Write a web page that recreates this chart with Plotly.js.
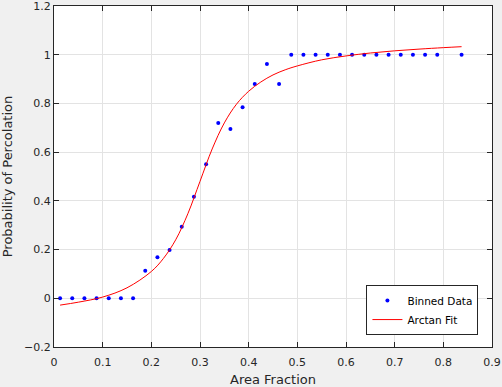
<!DOCTYPE html>
<html>
<head>
<meta charset="utf-8">
<script src="https://cdn.plot.ly/plotly-3.0.1.min.js"></script>
<style>html,body{margin:0;padding:0;background:#f0f0f0;}#chart{width:502px;height:387px;}</style>
</head>
<body>
<div id="chart"></div>
<script>
// Binned data (bin centres and observed probability)
const binX = [0.0125, 0.0375, 0.0625, 0.0875, 0.1125, 0.1375, 0.1625, 0.1875, 0.2125, 0.2375,
              0.2625, 0.2875, 0.3125, 0.3375, 0.3625, 0.3875, 0.4125, 0.4375, 0.4625, 0.4875,
              0.5125, 0.5375, 0.5625, 0.5875, 0.6125, 0.6375, 0.6625, 0.6875, 0.7125, 0.7375,
              0.7625, 0.7875, 0.8375];
const binY = [0, 0, 0, 0, 0, 0, 0, 0.113, 0.168, 0.198,
              0.294, 0.417, 0.55, 0.72, 0.695, 0.784, 0.88, 0.962, 0.88, 1,
              1, 1, 1, 1, 1, 1, 1, 1, 1, 1,
              1, 1, 1];

// Arctan fit curve
const fitX = [0.0125, 0.05, 0.1, 0.15, 0.2, 0.225, 0.25, 0.275, 0.3, 0.325, 0.35, 0.375,
              0.4, 0.425, 0.45, 0.475, 0.5, 0.55, 0.6, 0.65, 0.7, 0.75, 0.8, 0.8375];
const fitY = [-0.028, -0.016, 0.005, 0.043, 0.11, 0.164, 0.24, 0.347, 0.48, 0.613, 0.72, 0.797,
              0.85, 0.888, 0.917, 0.938, 0.954, 0.979, 0.995, 1.007, 1.016, 1.023, 1.029, 1.033];

// Axis tick values
const xTicks = [0, 0.1, 0.2, 0.3, 0.4, 0.5, 0.6, 0.7, 0.8, 0.9];
const xTickText = ['0', '0.1', '0.2', '0.3', '0.4', '0.5', '0.6', '0.7', '0.8', '0.9'];
const yTicks = [-0.2, 0, 0.2, 0.4, 0.6, 0.8, 1, 1.2];
const yTickText = ['\u22120.2', '0', '0.2', '0.4', '0.6', '0.8', '1', '1.2'];

const seriesNames = ['Binned Data', 'Arctan Fit'];
const xTitle = 'Area Fraction';
const yTitle = 'Probability of Percolation';

const font = 'DejaVu Sans, Arial, sans-serif';
const axisCommon = {
  showgrid: true, gridcolor: '#e3e3e3', gridwidth: 1,
  zeroline: false, showline: true, linecolor: '#262626', linewidth: 1,
  mirror: 'ticks', ticks: 'inside', ticklen: 5, tickcolor: '#262626',
  tickmode: 'array', ticklabeloverflow: 'allow',
  tickfont: {family: font, size: 11, color: '#262626'}
};

const data = [
  {x: binX, y: binY, type: 'scatter', mode: 'markers', name: seriesNames[0],
   marker: {color: '#0000ff', size: 4}},
  {x: fitX, y: fitY, type: 'scatter', mode: 'lines', name: seriesNames[1],
   line: {color: '#ff0000', width: 1, shape: 'spline', smoothing: 1}}
];

const layout = {
  width: 502, height: 387,
  paper_bgcolor: '#f0f0f0', plot_bgcolor: '#ffffff',
  margin: {l: 54, r: 10, t: 6, b: 40},
  showlegend: true,
  font: {family: font, color: '#262626'},
  xaxis: Object.assign({}, axisCommon, {
    range: [0, 0.9], tickvals: xTicks, ticktext: xTickText, ticklabelstandoff: 5,
    title: {text: xTitle, font: {family: font, size: 13, color: '#262626'}, standoff: 10}
  }),
  yaxis: Object.assign({}, axisCommon, {
    range: [-0.2, 1.2], tickvals: yTicks, ticktext: yTickText,
    title: {text: yTitle, font: {family: font, size: 13, color: '#262626'}, standoff: 8}
  }),
  legend: {
    x: 0.969, y: 0.035, xanchor: 'right', yanchor: 'bottom',
    bgcolor: '#ffffff', bordercolor: '#262626', borderwidth: 1,
    font: {family: font, size: 10.5, color: '#000000'},
    tracegroupgap: 0, itemwidth: 30
  }
};

Plotly.newPlot('chart', data, layout, {displayModeBar: false, staticPlot: true});
</script>
</body>
</html>
